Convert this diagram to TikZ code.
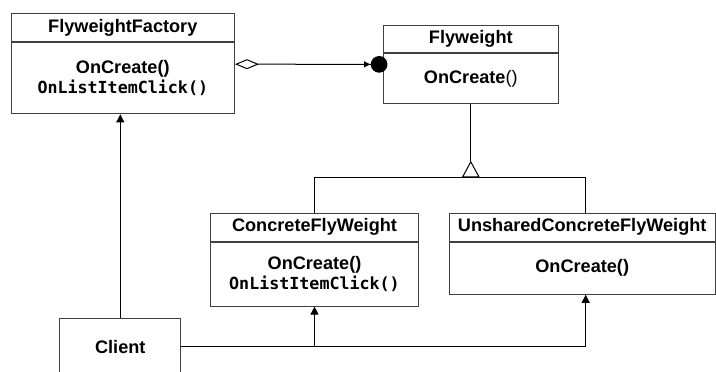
\documentclass[tikz,border=0pt]{standalone}
\usepackage{fontspec}
\setmainfont{Liberation Sans}
\setmonofont{DejaVu Sans Mono}
\usetikzlibrary{arrows.meta,positioning}

\newcommand{\methodtt}[1]{{\fontsize{12.5}{15.5}\selectfont\ttfamily\bfseries #1}}

\begin{document}
\begin{tikzpicture}[
      x=0.75pt, y=-0.75pt,
      line width=0.75pt,
      class title/.style={draw=black!75, inner sep=0pt, minimum height=21pt, font=\fontsize{13.6}{15.5}\selectfont\bfseries},
      class body/.style={draw=black!75, inner sep=0pt, align=center, font=\fontsize{13.6}{15.5}\selectfont\bfseries},
      call/.style={-{Triangle[length=6pt,width=6pt]}}
    ]
    \useasboundingbox (0,0) rectangle (716,371);
    \clip (0,0) rectangle (716,371);

    % Top classes
    \node (factory) [class title, minimum width=167.5pt] at (122.8,27.5) {FlyweightFactory};
    \node (factorybody) [class body, minimum width=167.5pt, minimum height=53.5pt, below=0pt of factory] {OnCreate()\\\methodtt{OnListItemClick()}};
    \node (flyweight) [class title, minimum width=131.25pt, minimum height=20.5pt] at (470.8,38.7) {Flyweight};
    \node (flyweightbody) [class body, minimum width=131.25pt, minimum height=37.5pt, below=0pt of flyweight] {OnCreate{\mdseries()}};

    % Subclasses of Flyweight
    \node (concrete) [class title, minimum width=155.7pt, minimum height=20.8pt] at (314.5,227.2) {ConcreteFlyWeight};
    \node (concretebody) [class body, minimum width=155.7pt, minimum height=48pt, below=0pt of concrete] {OnCreate()\\\methodtt{OnListItemClick()}};
    \node (unshared) [class title, minimum width=199.3pt] at (582.2,227.3) {UnsharedConcreteFlyWeight};
    \node (unsharedbody) [class body, minimum width=199.3pt, minimum height=39pt, below=0pt of unshared] {OnCreate()};

    % Client
    \node (client) [class body, minimum width=90.5pt, minimum height=42.5pt] at (120.3,346.7) {Client};

    % Factory holds the flyweights
    \draw[{Diamond[open,length=18pt,width=7.5pt]}-{Latex[length=5pt,width=5pt]Circle[length=12.5pt]}, shorten >=-3.5pt]
      ([yshift=10.5pt]factorybody.east) -- ([yshift=10.5pt]flyweightbody.west);

    % Inheritance
    \coordinate (apex) at (470.8,160.7);
    \coordinate (fork) at (470.8,177.3);
    \draw (flyweightbody) -- (apex);
    \draw (concrete.north) |- (fork) -| ([xshift=2.6pt]unshared.north);
    \draw[-{Triangle[open,length=12.5pt,width=13.3pt]}] (fork) -- (apex);

    % Client calls
    \draw[call] (client) -- (client |- factorybody.south);
    \draw[call] (client.east) -| ([xshift=2.6pt]unsharedbody.south);
    \draw[call] (client.east -| concretebody.south) -- (concretebody.south);
  \end{tikzpicture}
\end{document}
